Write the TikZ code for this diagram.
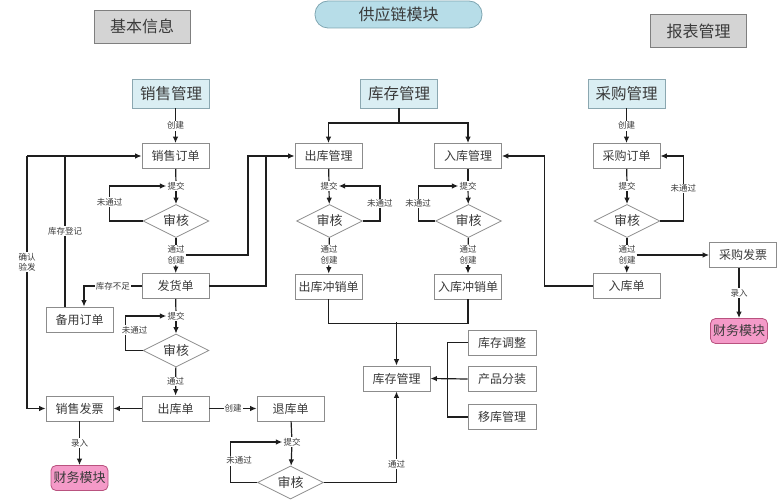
\documentclass[tikz,border=0pt]{standalone}
\usepackage{fontspec}
\setmainfont{Noto Sans CJK SC}
\usetikzlibrary{arrows.meta,shapes.geometric}
\definecolor{txt}{HTML}{3A3A3A}
\definecolor{bxline}{HTML}{8C8C8C}
\definecolor{gfill}{HTML}{D4D4D4}
\definecolor{gline}{HTML}{7F7F7F}
\definecolor{hdfill}{HTML}{DAEEF3}
\definecolor{hdline}{HTML}{8BA7B0}
\definecolor{pillfill}{HTML}{B7DDE8}
\definecolor{pillline}{HTML}{7FA6B2}
\definecolor{pkfill}{HTML}{F49AC8}
\definecolor{pkline}{HTML}{B9527F}
\definecolor{lnc}{HTML}{1E1E1E}
\begin{document}
\begin{tikzpicture}[x=1pt,y=-1pt,
  box/.style={draw=bxline,line width=0.8pt,fill=white,minimum width=67pt,minimum height=25pt,inner sep=0pt,text=txt,font=\fontsize{12}{14}\selectfont},
  head/.style={draw=hdline,line width=0.8pt,fill=hdfill,minimum width=77pt,minimum height=29pt,inner sep=0pt,text=txt,font=\fontsize{15.5}{18}\selectfont},
  gbox/.style={draw=gline,line width=0.8pt,fill=gfill,minimum width=96pt,minimum height=33pt,inner sep=0pt,text=txt,font=\fontsize{16}{19}\selectfont},
  pill/.style={draw=pillline,line width=0.8pt,fill=pillfill,rounded corners=13pt,minimum width=167pt,minimum height=27pt,inner sep=0pt,text=txt,font=\fontsize{16}{19}\selectfont},
  dia/.style={diamond,draw=bxline,line width=0.8pt,fill=white,aspect=2,minimum width=66pt,minimum height=33pt,inner sep=0pt,text=txt,font=\fontsize{13}{15}\selectfont},
  fin/.style={draw=pkline,line width=0.8pt,fill=pkfill,rounded corners=5pt,minimum width=57pt,minimum height=25pt,inner sep=0pt,text=txt,font=\fontsize{13}{15}\selectfont},
  lbl/.style={fill=white,inner sep=1pt,text=txt,align=center,font=\fontsize{8.5}{10.5}\selectfont},
  ln/.style={draw=lnc,line width=1.2pt},
  arr/.style={draw=lnc,line width=1.2pt,-{Latex[length=6.5pt,width=5.5pt]}}]
\path[use as bounding box] (0,0) rectangle (778,500);

% top
\node[gbox] (jb) at (142,26.5) {基本信息};
\node[pill] (gyl) at (398.5,14.5) {供应链模块};
\node[gbox] (bb) at (698.5,31) {报表管理};

\node[head] (xsgl) at (171,93.5) {销售管理};
\node[head] (kcgl) at (399,93.5) {库存管理};
\node[head] (cggl) at (626.5,93.5) {采购管理};

% sales column
\node[box] (xsdd) at (175.5,156) {销售订单};
\node[lbl] (t1) at (176,186) {提交};
\node[dia] (sh1) at (176,221) {审核};
\node[lbl] (tc1) at (176,255) {通过\\创建};
\node[box] (fhd) at (175.5,286) {发货单};
\node[box] (byd) at (79.5,319.5) {备用订单};
\node[lbl] (t2) at (176,316) {提交};
\node[dia] (sh2) at (176,350.5) {审核};
\node[box] (ckd) at (175.5,408.5) {出库单};
\node[box] (xsfp) at (79.5,408.5) {销售发票};
\node[fin] (cw1) at (79.5,478) {财务模块};
\node[box] (tkd) at (290.5,408.5) {退库单};
\node[lbl] (t3) at (292,442) {提交};
\node[dia] (sh3) at (290.5,482.5) {审核};

% inventory column
\node[box] (ckgl) at (328.5,156) {出库管理};
\node[box] (rkgl) at (468,156) {入库管理};
\node[lbl] (t4) at (329,186) {提交};
\node[dia] (sh4) at (329.5,221) {审核};
\node[lbl] (tc4) at (329,255) {通过\\创建};
\node[box] (ckcx) at (328.5,286.5) {出库冲销单};
\node[lbl] (t5) at (468,186) {提交};
\node[dia] (sh5) at (468.5,221) {审核};
\node[lbl] (tc5) at (468,255) {通过\\创建};
\node[box] (rkcx) at (468,286.5) {入库冲销单};
\node[box] (kc2) at (396.5,378.5) {库存管理};
\node[box,minimum width=68pt] (kctz) at (502,342.5) {库存调整};
\node[box,minimum width=68pt] (cpfz) at (502,379) {产品分装};
\node[box,minimum width=68pt] (ykgl) at (502,417) {移库管理};

% purchase column
\node[box] (cgdd) at (626.5,156) {采购订单};
\node[lbl] (t6) at (627,186) {提交};
\node[dia] (sh6) at (627,221) {审核};
\node[lbl] (tc6) at (627,255) {通过\\创建};
\node[box] (rkd) at (626.5,286) {入库单};
\node[box] (cgfp) at (743,255) {采购发票};
\node[fin] (cw2) at (739,331) {财务模块};

% helper coordinates
\coordinate (kd) at (65,156);
\coordinate (qr) at (27,156);
\coordinate (j1) at (248,156);
\coordinate (j2) at (266,156);
\coordinate (sp) at (399,123);

% sales connectors
\draw[arr] (xsdd.north |- xsgl.south) -- node[lbl]{创建} (xsdd.north);
\draw[ln] (xsdd) -- (t1);
\draw[arr] (t1) -- (sh1);
\draw[arr] (sh1.west) -- ++(-33,0) |- node[lbl,pos=0.27]{未通过} (t1.west);
\draw[ln] (sh1) -- (tc1);
\draw[arr] (tc1) -- (fhd);
\draw[ln] (tc1.east) -| (j1) -- (j2);
\draw[arr] (fhd.east) -| (j2) -- (ckgl.west);
\draw[arr] (fhd.west) -| node[lbl,pos=0.25]{库存不足} ([xshift=4.5pt]byd.north);
\draw[arr] (kd |- byd.north) -- node[lbl,pos=0.5]{库存登记} (kd) -- (xsdd.west);
\draw[ln] (qr) -- (kd);
\draw[arr] (qr) |- node[lbl,pos=0.21]{确认\\验发} (xsfp.west);
\draw[ln] (fhd) -- (t2);
\draw[arr] (t2) -- (sh2);
\draw[arr] (sh2.west) -- ++(-17,0) |- node[lbl,pos=0.3,xshift=9pt]{未通过} (t2.west);
\draw[arr] (sh2) -- node[lbl]{通过} (ckd);
\draw[arr] (ckd) -- (xsfp);
\draw[arr] (ckd) -- node[lbl]{创建} (tkd);
\draw[arr] (xsfp) -- node[lbl]{录入} (cw1);
\draw[ln] (tkd) -- (t3);
\draw[arr] (t3) -- (sh3);
\draw[arr] (sh3.west) -- ++(-27,0) |- node[lbl,pos=0.27,xshift=9pt]{未通过} (t3.west);
\draw[arr] (sh3.east) -| node[lbl,pos=0.6]{通过} (kc2.south);

% inventory connectors
\draw[ln] (kcgl.south) -- (sp);
\draw[arr] (sp) -| (ckgl.north);
\draw[arr] (sp) -| (rkgl.north);
\draw[ln] (ckgl) -- (t4);
\draw[arr] (t4) -- (sh4);
\draw[arr] (sh4.east) -- ++(17,0) |- node[lbl,pos=0.25]{未通过} (t4.east);
\draw[ln] (sh4) -- (tc4);
\draw[arr] (tc4) -- (ckcx);
\draw[ln] (rkgl) -- (t5);
\draw[arr] (t5) -- (sh5);
\draw[arr] (sh5.west) -- ++(-17,0) |- node[lbl,pos=0.25]{未通过} (t5.west);
\draw[ln] (sh5) -- (tc5);
\draw[arr] (tc5) -- (rkcx);
\draw[ln] (ckcx.south) -- ++(0,24) -| (rkcx.south);
\draw[arr] (kc2.north |- 0,322) -- (kc2.north);
\draw[ln] (kctz.west) -- ++(-20,0) |- (ykgl.west);
\draw[arr] (cpfz.west) -- (kc2.east);

% purchase connectors
\draw[arr] (cgdd.north |- cggl.south) -- node[lbl]{创建} (cgdd.north);
\draw[ln] (cgdd) -- (t6);
\draw[arr] (t6) -- (sh6);
\draw[arr] (sh6.east) -- ++(23,0) |- node[lbl,pos=0.25]{未通过} (cgdd.east);
\draw[ln] (sh6) -- (tc6);
\draw[arr] (tc6) -- (rkd);
\draw[arr] (tc6.east) -- (cgfp.west);
\draw[arr] (cgfp.south -| cw2) -- node[lbl]{录入} (cw2.north);
\draw[arr] (rkd.west) -- ++(-48,0) |- (rkgl.east);
\end{tikzpicture}
\end{document}
